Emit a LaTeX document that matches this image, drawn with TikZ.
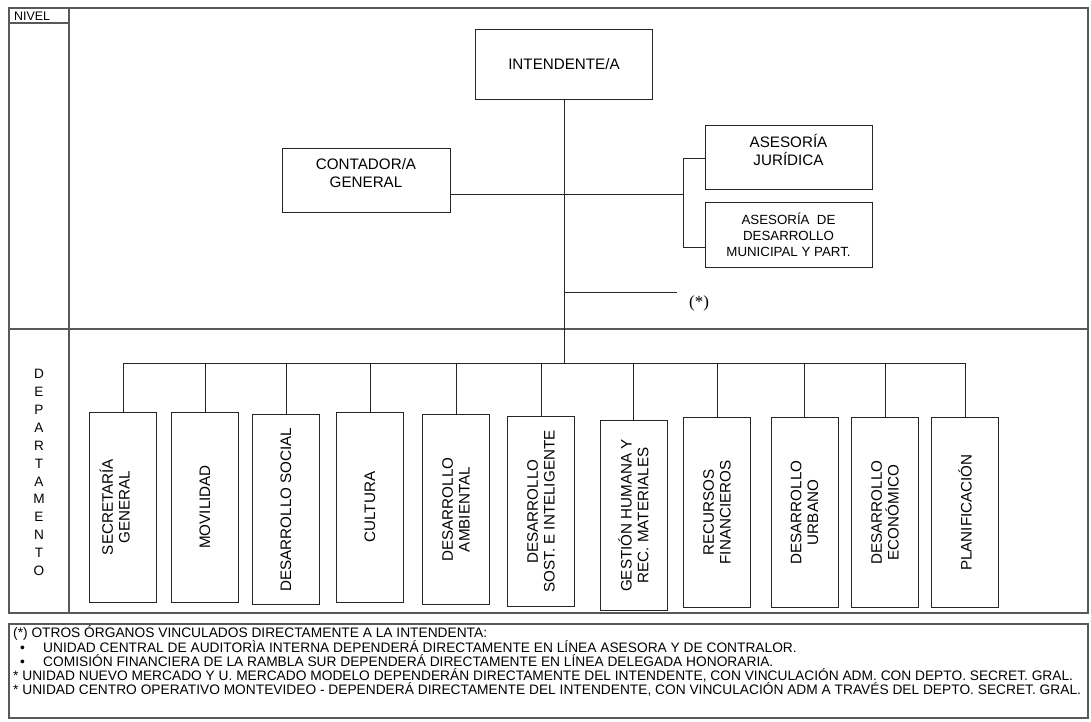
\documentclass[tikz,border=0pt]{standalone}
\usepackage{fontspec}
\setmainfont{Liberation Sans}
\newfontfamily\serifa{Liberation Serif}

\begin{document}
\begin{tikzpicture}[x=1pt,y=-1pt,
    marco/.style={draw=black!65, line width=1.2pt},
    cargo/.style={rectangle, draw=black!85, line width=1pt, align=center,
                  inner sep=0pt, font=\fontsize{15.2}{18.5}\selectfont},
    depto/.style={rectangle, draw=black!85, line width=1pt, rotate=90,
                  minimum width=190pt, minimum height=67pt, inner sep=0pt,
                  align=center, font=\fontsize{15.2}{16.7}\selectfont},
    conn/.style={draw=black!85, line width=1pt},
    nota/.style={align=left, inner sep=0pt, font=\fontsize{13.75}{14}\selectfont}]
    \useasboundingbox (0,0) rectangle (1091,721);
    % marco de niveles
    \draw[marco] (9,8) rectangle (1088,613);
    \draw[marco] (69,8) -- (69,613);
    \draw[marco] (9,23) -- (69,23);
    \draw[marco] (9,329) -- (1088,329);
    \node[anchor=west, inner sep=0pt, font=\fontsize{12.4}{14}\selectfont] (nivel) at (14,16) {NIVEL};
    \foreach \l [count=\k] in {D,E,P,A,R,T,A,M,E,N,T,O}
      \node[inner sep=0pt, font=\fontsize{13.6}{14}\selectfont] (dep\k) at (39,{374+(\k-1)*17.9}) {\l};

    % nivel superior
    \node[cargo, minimum width=177pt, minimum height=70pt] (intendente) at (564,64) {INTENDENTE/A};
    \node[cargo, minimum width=168pt, minimum height=64pt] (contador) at (366,180) {CONTADOR/A\\GENERAL\\[-4pt]\mbox{}};
    \node[cargo, minimum width=167pt, minimum height=64pt] (juridica) at (788.5,157) {ASESORÍA\\JURÍDICA\\[-4pt]\mbox{}};
    \node[cargo, minimum width=167pt, minimum height=65pt, font=\fontsize{13.3}{16}\selectfont] (municipal) at (788.5,234.5) {ASESORÍA~ DE\\DESARROLLO\\MUNICIPAL Y PART.};
    \node[inner sep=0pt, font=\serifa\fontsize{17}{17}\selectfont] (otros) at (699,303) {(*)};

    \coordinate (bus) at (564,363);
    \coordinate (ramal) at (683,194);
    \coordinate (brtop) at (683,158);
    \coordinate (brbot) at (683,247);
    \coordinate (otrosfin) at (677,292);

    \draw[conn] (intendente.south) -- (bus);
    \draw[conn] (contador.east |- ramal) -- (ramal);
    \draw[conn] (juridica.west |- brtop) -- (brtop) -- (brbot) -- (municipal.west |- brbot);
    \draw[conn] (intendente.south |- otrosfin) -- (otrosfin);

    % departamentos
    \foreach \n/\cx/\cy/\txt in {1/123/507/SECRETARÍA\\GENERAL\\\mbox{},
        2/205/507/MOVILIDAD, 3/286/509.5/DESARROLLO SOCIAL, 4/370/507/CULTURA,
        5/456/509.5/DESARROLLO\\AMBIENTAL, 6/541/511.5/DESARROLLO\\SOST. E INTELIGENTE,
        7/633.5/515.5/GESTIÓN HUMANA Y\\REC. MATERIALES, 8/717/512.5/RECURSOS\\FINANCIEROS,
        9/804.5/512.5/DESARROLLO\\URBANO, 10/885/512.5/DESARROLLO\\ECONÓMICO,
        11/965/512.5/PLANIFICACIÓN}
      \node[depto] (d\n) at (\cx,\cy) {\txt};
    \draw[conn] (d1.east |- bus) -- (d11.east |- bus);
    \foreach \i in {1,...,11}
      \draw[conn] (d\i.east |- bus) -- (d\i.east);

    % notas al pie
    \draw[marco] (9,624) rectangle (1088,718);
    \node[nota, anchor=north west] (notas) at (13,625) {(*) OTROS ÓRGANOS VINCULADOS DIRECTAMENTE A LA INTENDENTA:\\
      \makebox[30pt][l]{\hspace{7pt}•}UNIDAD CENTRAL DE AUDITORÌA INTERNA DEPENDERÁ DIRECTAMENTE EN LÍNEA ASESORA Y DE CONTRALOR.\\
      \makebox[30pt][l]{\hspace{7pt}•}COMISIÓN FINANCIERA DE LA RAMBLA SUR DEPENDERÁ DIRECTAMENTE EN LÍNEA DELEGADA HONORARIA.\\
      * UNIDAD NUEVO MERCADO Y U. MERCADO MODELO DEPENDERÁN DIRECTAMENTE DEL INTENDENTE, CON VINCULACIÓN ADM. CON DEPTO. SECRET. GRAL.\\
      * UNIDAD CENTRO OPERATIVO MONTEVIDEO - DEPENDERÁ DIRECTAMENTE DEL INTENDENTE, CON VINCULACIÓN ADM A TRAVÉS DEL DEPTO. SECRET. GRAL.};
\end{tikzpicture}
\end{document}
